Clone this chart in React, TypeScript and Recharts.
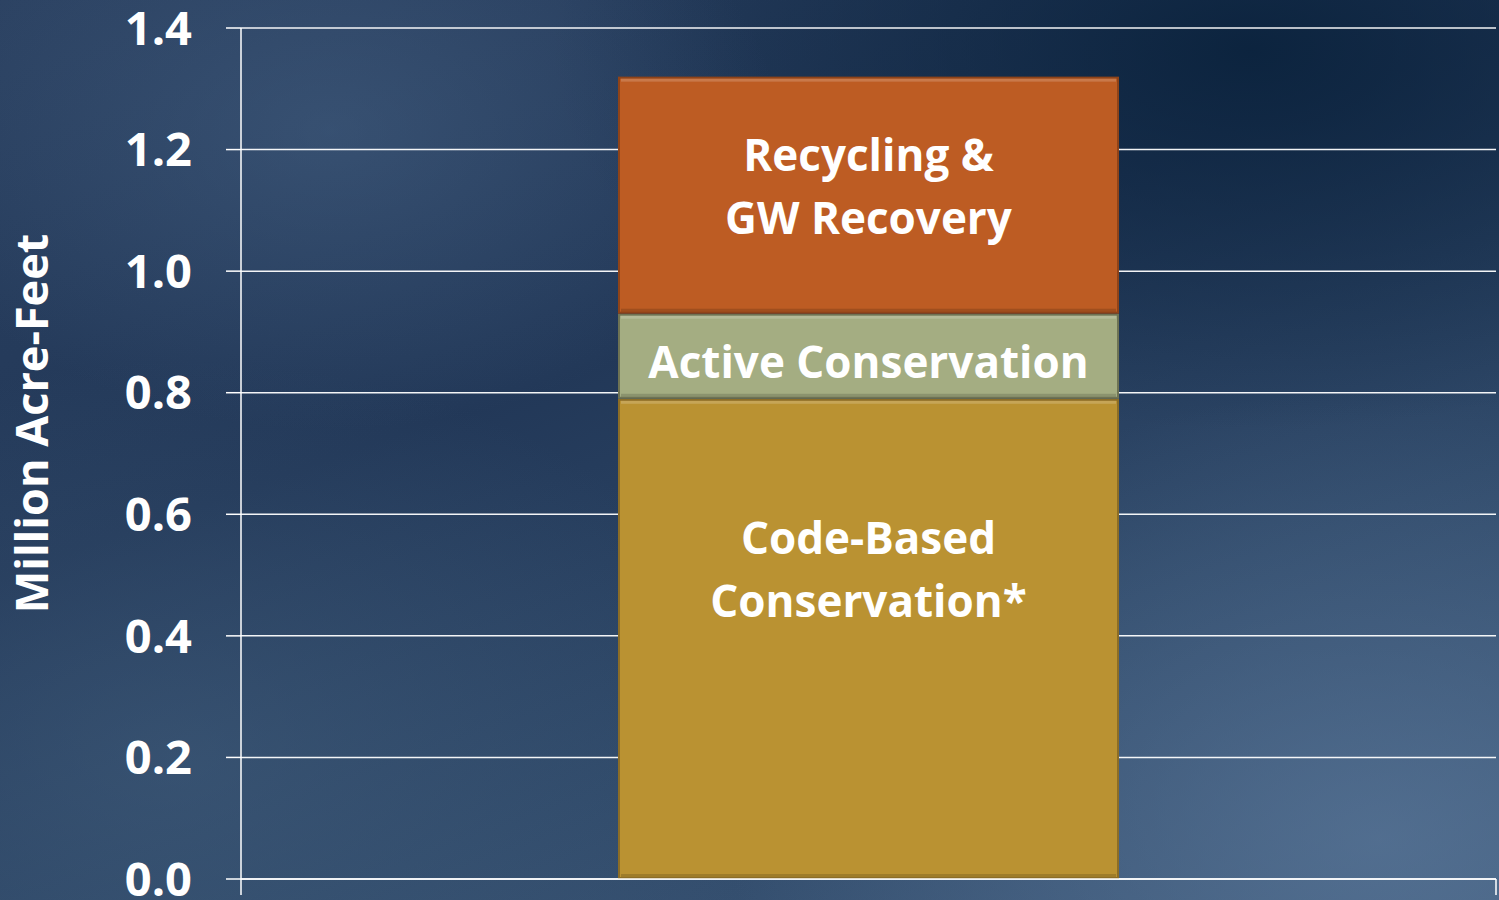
import { BarChart, Bar, CartesianGrid, XAxis, YAxis, LabelList, Label } from "recharts";

type Row = {
  name: string;
  codeBased: number;
  active: number;
  recycling: number;
};

const categories = ["Supply"];
const codeBasedValues = [0.79];
const activeValues = [0.14];
const recyclingValues = [0.39];
const yTicks = [0, 0.2, 0.4, 0.6, 0.8, 1.0, 1.2, 1.4];

const data: Row[] = categories.map((name, i) => ({
  name,
  codeBased: codeBasedValues[i],
  active: activeValues[i],
  recycling: recyclingValues[i],
}));

const FONT = "'Open Sans', Lato, sans-serif";

const seriesLabels: Record<string, { lines: string[]; shift: number }> = {
  codeBased: { lines: ["Code-Based", "Conservation*"], shift: -70 },
  active: { lines: ["Active Conservation"], shift: 5 },
  recycling: { lines: ["Recycling &", "GW Recovery"], shift: -10 },
};

function makeLabel(key: string) {
  return (props: any) => {
    const { x, y, width, height } = props;
    const cfg = seriesLabels[key];
    const cx = Number(x) + Number(width) / 2;
    const cy = Number(y) + Number(height) / 2 + cfg.shift;
    const lh = 63;
    const start = cy - ((cfg.lines.length - 1) * lh) / 2;
    return (
      <text x={cx} textAnchor="middle" fill="#ffffff" fontFamily={FONT} fontWeight={700} fontSize={44}>
        {cfg.lines.map((l, i) => (
          <tspan key={i} x={cx} y={start + i * lh} dominantBaseline="central">
            {l}
          </tspan>
        ))}
      </text>
    );
  };
}

// Excel-style tick marks sit on the category edges, not the centre
function EdgeTick(props: any) {
  const { y, payload } = props;
  const c = Number(payload?.coordinate);
  const half = Number(payload?.offset ?? 0);
  return (
    <g>
      <line x1={c - half} x2={c - half} y1={y} y2={y + 16} stroke="#ffffff" strokeWidth={1.5} />
      <line x1={c + half} x2={c + half} y1={y} y2={y + 16} stroke="#ffffff" strokeWidth={1.5} />
    </g>
  );
}

function BevelBar(props: any) {
  const { x, y, width, height, fill, edge } = props;
  if (!height || height <= 0) return null;
  return (
    <g>
      <rect x={x} y={y} width={width} height={height} fill={edge} />
      <rect x={x + 2} y={y + 2} width={width - 4} height={height - 4} fill={fill} />
      <rect x={x + 3} y={y + 2} width={width - 6} height={3} fill="rgba(255,255,255,0.18)" />
      <rect x={x + 3} y={y + height - 5} width={width - 6} height={3} fill="rgba(0,0,0,0.15)" />
    </g>
  );
}

export default function App() {
  return (
    <div
      style={{
        position: "fixed",
        left: 0,
        top: 0,
        width: 1499,
        height: 900,
        background:
          "radial-gradient(ellipse 450px 300px at 330px 130px, rgba(80,110,145,0.4), transparent)," +
          "radial-gradient(ellipse 650px 450px at 1380px 840px, rgba(100,130,165,0.55), transparent)," +
          "radial-gradient(ellipse 600px 400px at 180px 760px, rgba(75,105,135,0.4), transparent)," +
          "radial-gradient(ellipse 700px 380px at 1250px 50px, rgba(8,32,58,0.85), transparent)," +
          "linear-gradient(160deg, #2a4060 0%, #223858 40%, #2f4969 70%, #3e5979 100%)",
      }}
    >
      <BarChart
        width={1499}
        height={900}
        data={data}
        barCategoryGap={0}
        margin={{ top: 28, right: 3, bottom: 20, left: 0 }}
      >
        <CartesianGrid vertical={false} horizontal stroke="#ffffff" strokeWidth={1.5} strokeOpacity={0.95} />
        <XAxis
          dataKey="name"
          height={1}
          tickSize={0}
          tickMargin={0}
          tickLine={false}
          axisLine={{ stroke: "#ffffff", strokeWidth: 1.5 }}
          tick={<EdgeTick />}
        />
        <YAxis
          domain={[0, 1.4]}
          ticks={yTicks}
          interval={0}
          width={241}
          tickSize={15}
          tickMargin={34}
          stroke="#ffffff"
          strokeWidth={1.5}
          tickFormatter={(v) => Number(v).toFixed(1)}
          tick={{ fill: "#ffffff", fontFamily: FONT, fontWeight: 700, fontSize: 47 }}
        >
          <Label
            value="Million Acre-Feet"
            angle={-90}
            position="insideLeft"
            offset={0}
            dx={32}
            dy={-30}
            fill="#ffffff"
            fontFamily={FONT}
            fontWeight={700}
            fontSize={45}
            style={{ textAnchor: "middle" }}
          />
        </YAxis>
        <Bar
          dataKey="codeBased"
          stackId="a"
          barSize={501}
          fill="#ba9232"
          shape={(p: any) => <BevelBar {...p} fill="#ba9232" edge="#8c6d26" />}
          isAnimationActive={false}
        >
          <LabelList dataKey="codeBased" content={makeLabel("codeBased")} />
        </Bar>
        <Bar
          dataKey="active"
          stackId="a"
          barSize={501}
          fill="#a4ad82"
          shape={(p: any) => <BevelBar {...p} fill="#a4ad82" edge="#6e7354" />}
          isAnimationActive={false}
        >
          <LabelList dataKey="active" content={makeLabel("active")} />
        </Bar>
        <Bar
          dataKey="recycling"
          stackId="a"
          barSize={501}
          fill="#bd5c23"
          shape={(p: any) => <BevelBar {...p} fill="#bd5c23" edge="#8f4318" />}
          isAnimationActive={false}
        >
          <LabelList dataKey="recycling" content={makeLabel("recycling")} />
        </Bar>
      </BarChart>
    </div>
  );
}
